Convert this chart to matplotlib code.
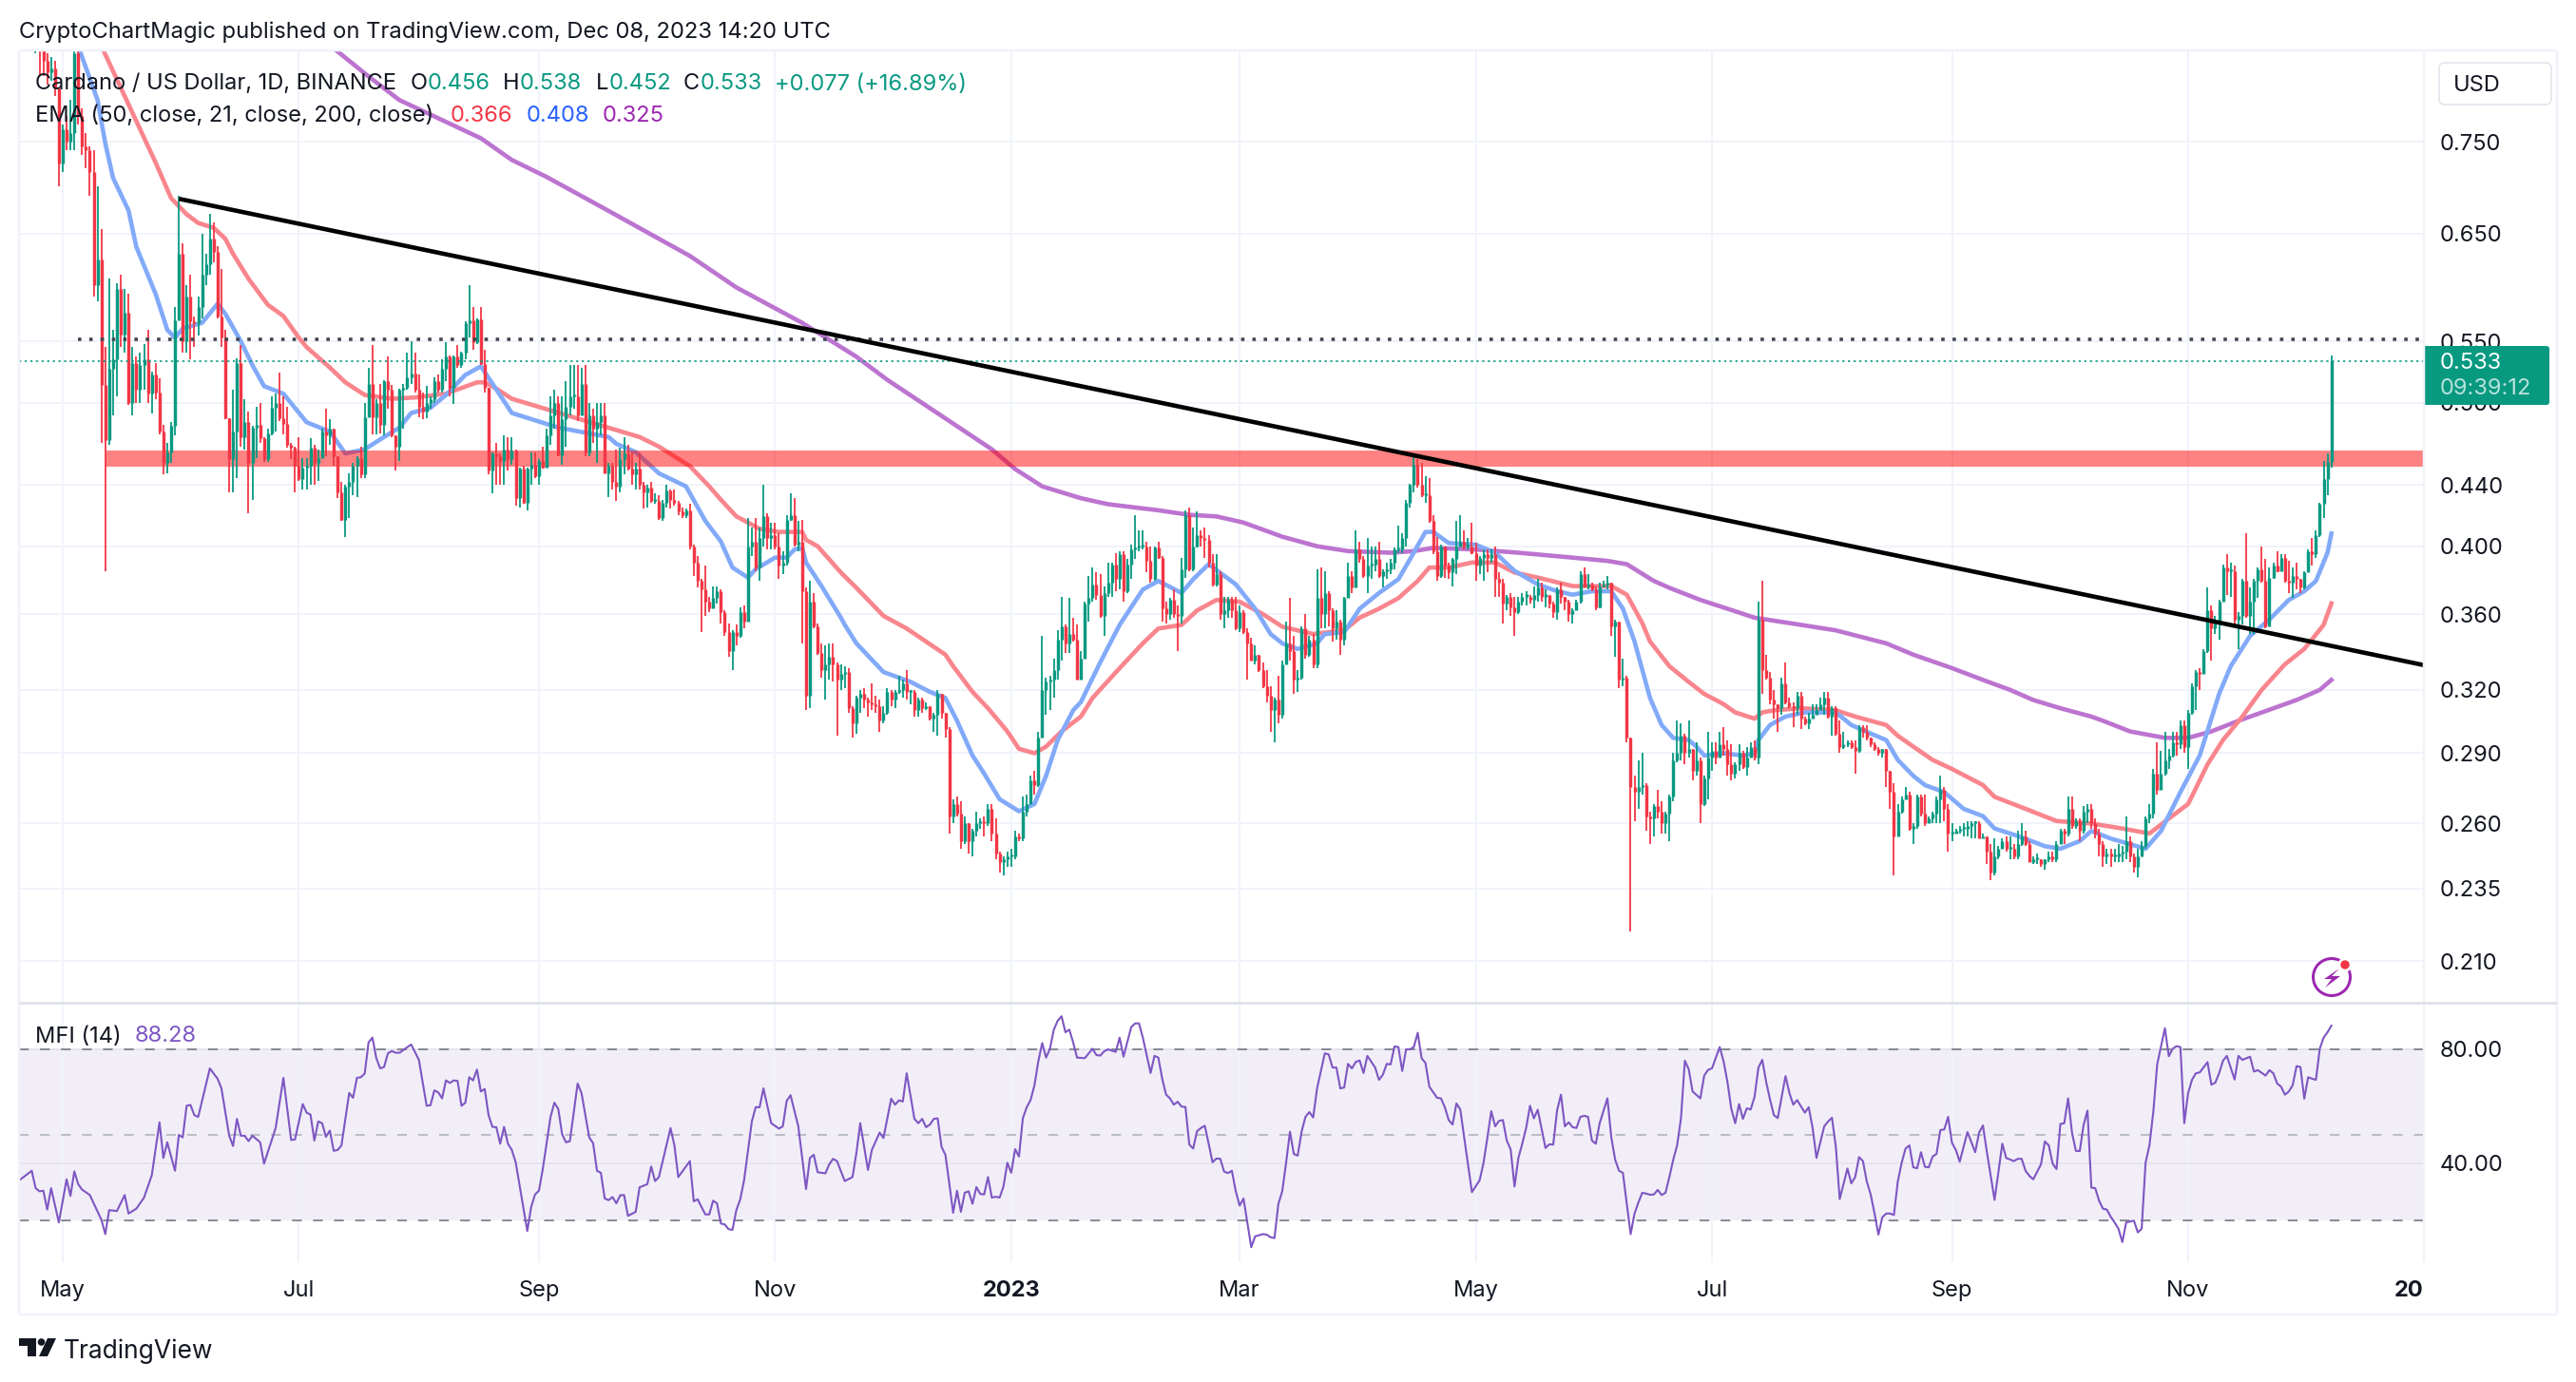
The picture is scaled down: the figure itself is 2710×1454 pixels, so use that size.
import numpy as np
import pandas as pd
import matplotlib
matplotlib.use("Agg")
import matplotlib.pyplot as plt
import matplotlib.dates as mdates
from matplotlib.patches import Circle, FancyBboxPatch, Polygon, Rectangle
from matplotlib.ticker import FixedLocator, NullLocator, FixedFormatter

plt.rcParams['font.family'] = ['Inter', 'DejaVu Sans']

# ---- daily candles, first bar 2022-04-24, one row = 10 days ----
first_bar = '2022-04-24'
close = [
 .88,.865,.85,.835,.84,.815,.725,.765,.75,.76,
 .86,.78,.745,.74,.715,.60,.625,.514,.472,.527,
 .535,.597,.556,.575,.50,.532,.51,.53,.535,.507,
 .522,.508,.478,.455,.463,.482,.568,.63,.55,.59,
 .567,.566,.58,.61,.62,.645,.632,.572,.553,.488,
 .458,.478,.532,.474,.485,.455,.481,.483,.473,.458,
 .477,.496,.50,.488,.484,.468,.466,.453,.444,.452,
 .453,.466,.455,.459,.478,.475,.48,.46,.435,.417,
 .439,.442,.453,.459,.447,.489,.515,.489,.50,.483,
 .517,.51,.475,.467,.51,.512,.52,.523,.51,.497,
 .493,.50,.503,.517,.51,.527,.537,.512,.537,.53,
 .54,.566,.568,.549,.569,.531,.512,.45,.462,.46,
 .457,.465,.458,.464,.431,.451,.428,.451,.454,.446,
 .457,.452,.475,.49,.50,.461,.487,.497,.505,.505,
 .49,.515,.463,.49,.48,.485,.49,.448,.453,.442,
 .439,.458,.462,.451,.447,.451,.44,.435,.438,.429,
 .429,.418,.428,.436,.43,.428,.422,.42,.423,.40,
 .39,.379,.374,.367,.363,.369,.373,.361,.35,.34,
 .35,.348,.361,.356,.40,.403,.387,.405,.419,.405,
 .407,.40,.388,.39,.417,.42,.401,.403,.373,.317,
 .367,.353,.339,.33,.333,.337,.333,.325,.328,.329,
 .311,.304,.316,.318,.315,.314,.313,.312,.305,.309,
 .319,.315,.319,.32,.323,.319,.319,.31,.315,.311,
 .312,.306,.308,.318,.309,.301,.263,.268,.264,.253,
 .26,.253,.257,.26,.261,.26,.266,.256,.248,.245,
 .246,.247,.247,.255,.254,.265,.268,.278,.276,.297,
 .32,.324,.325,.33,.346,.353,.344,.349,.346,.325,
 .336,.366,.369,.377,.371,.359,.372,.378,.389,.38,
 .395,.373,.389,.398,.399,.40,.40,.391,.38,.399,
 .393,.363,.36,.368,.36,.359,.386,.42,.386,.40,
 .407,.405,.404,.39,.377,.383,.36,.362,.368,.362,
 .352,.361,.35,.344,.335,.338,.33,.322,.317,.31,
 .315,.308,.333,.344,.34,.325,.326,.352,.338,.346,
 .333,.369,.36,.372,.362,.352,.356,.346,.369,.382,
 .375,.398,.392,.382,.388,.389,.392,.382,.385,.386,
 .39,.398,.398,.405,.428,.44,.454,.44,.433,.433,
 .416,.397,.382,.40,.388,.384,.392,.40,.403,.40,
 .40,.396,.388,.393,.395,.393,.395,.38,.378,.366,
 .37,.364,.361,.367,.37,.37,.368,.371,.375,.37,
 .371,.366,.361,.374,.37,.367,.36,.362,.367,.383,
 .376,.377,.374,.364,.376,.377,.378,.353,.356,.325,
 .326,.297,.275,.273,.275,.276,.263,.262,.267,.265,
 .26,.264,.271,.287,.29,.298,.29,.292,.282,.287,
 .268,.279,.288,.291,.288,.294,.292,.285,.281,.285,
 .29,.284,.288,.293,.288,.357,.33,.326,.315,.313,
 .311,.323,.314,.312,.311,.317,.306,.304,.306,.308,
 .31,.313,.316,.307,.311,.299,.293,.294,.295,.293,
 .291,.302,.30,.297,.294,.292,.29,.292,.282,.273,
 .255,.265,.27,.272,.258,.259,.271,.264,.26,.262,
 .264,.27,.274,.266,.256,.256,.257,.258,.258,.259,
 .26,.26,.254,.255,.249,.241,.247,.25,.253,.25,
 .25,.247,.252,.255,.252,.245,.246,.246,.244,.246,
 .247,.246,.252,.257,.256,.266,.259,.261,.257,.265,
 .266,.26,.256,.252,.247,.248,.247,.247,.248,.249,
 .253,.247,.243,.247,.251,.262,.264,.281,.274,.281,
 .287,.289,.295,.294,.303,.293,.309,.322,.329,.328,
 .34,.362,.352,.355,.367,.387,.385,.385,.357,.359,
 .379,.359,.367,.379,.386,.379,.353,.381,.388,.385,
 .393,.379,.378,.382,.38,.375,.384,.397,.395,.407,
 .427,.444,.456,.533]
high = [
 .91,.89,.88,.86,.855,.85,.80,.77,.78,.80,
 .88,.90,.79,.76,.745,.74,.70,.655,.545,.606,
 .56,.602,.61,.597,.592,.545,.537,.54,.548,.56,
 .525,.532,.519,.483,.47,.485,.58,.69,.64,.60,
 .61,.572,.59,.65,.63,.67,.662,.638,.615,.56,
 .488,.51,.536,.547,.503,.493,.482,.497,.50,.474,
 .48,.505,.507,.524,.505,.497,.47,.467,.474,.459,
 .459,.473,.468,.465,.48,.495,.487,.478,.46,.442,
 .44,.448,.455,.46,.467,.50,.528,.547,.503,.515,
 .518,.537,.514,.475,.511,.515,.54,.55,.54,.522,
 .508,.513,.505,.52,.522,.535,.549,.538,.538,.547,
 .541,.567,.60,.58,.57,.58,.543,.512,.463,.47,
 .462,.475,.474,.474,.465,.452,.453,.452,.463,.463,
 .458,.467,.48,.505,.51,.505,.505,.517,.53,.53,
 .53,.528,.53,.50,.495,.50,.50,.50,.455,.455,
 .465,.466,.474,.468,.463,.455,.463,.442,.44,.442,
 .434,.433,.43,.44,.437,.437,.429,.425,.424,.427,
 .401,.394,.38,.388,.37,.376,.376,.374,.362,.355,
 .351,.354,.364,.365,.418,.412,.418,.412,.44,.421,
 .415,.415,.408,.397,.42,.434,.431,.416,.417,.375,
 .379,.372,.355,.344,.343,.344,.344,.334,.333,.332,
 .331,.312,.317,.32,.321,.316,.323,.317,.315,.312,
 .321,.32,.32,.327,.325,.33,.32,.32,.316,.316,
 .314,.312,.309,.32,.316,.309,.302,.27,.271,.269,
 .263,.26,.258,.265,.262,.263,.268,.268,.262,.249,
 .247,.249,.25,.257,.256,.271,.272,.28,.282,.30,
 .348,.326,.327,.336,.351,.37,.354,.369,.358,.354,
 .34,.367,.382,.387,.384,.383,.376,.39,.39,.396,
 .397,.397,.392,.401,.42,.41,.41,.403,.40,.40,
 .403,.394,.367,.369,.374,.365,.393,.423,.425,.412,
 .422,.41,.412,.407,.395,.395,.385,.37,.37,.37,
 .37,.365,.362,.352,.347,.343,.338,.334,.33,.322,
 .316,.327,.335,.356,.369,.348,.33,.353,.36,.348,
 .349,.386,.387,.385,.373,.363,.362,.357,.37,.39,
 .385,.41,.403,.394,.405,.40,.40,.403,.386,.39,
 .392,.399,.413,.408,.43,.441,.462,.458,.455,.446,
 .445,.42,.406,.401,.392,.39,.393,.416,.42,.41,
 .405,.415,.402,.394,.398,.398,.398,.40,.384,.38,
 .371,.372,.37,.37,.372,.373,.371,.376,.38,.378,
 .374,.371,.367,.375,.378,.37,.368,.363,.368,.385,
 .387,.383,.378,.376,.378,.379,.382,.378,.357,.356,
 .336,.327,.297,.28,.287,.29,.277,.265,.268,.274,
 .269,.265,.272,.29,.305,.304,.299,.305,.292,.295,
 .288,.28,.30,.295,.295,.30,.302,.296,.294,.286,
 .294,.291,.293,.295,.296,.367,.379,.338,.329,.32,
 .313,.326,.334,.316,.314,.319,.319,.307,.309,.313,
 .313,.316,.319,.319,.312,.312,.305,.30,.296,.296,
 .296,.303,.303,.303,.297,.295,.293,.292,.292,.282,
 .277,.268,.271,.275,.273,.26,.272,.272,.272,.263,
 .265,.271,.28,.275,.268,.26,.258,.259,.26,.261,
 .261,.261,.261,.256,.254,.252,.254,.251,.254,.255,
 .255,.252,.257,.26,.257,.253,.247,.248,.246,.246,
 .249,.249,.253,.258,.258,.271,.271,.262,.262,.267,
 .268,.268,.262,.258,.253,.25,.25,.25,.252,.251,
 .263,.255,.248,.25,.253,.263,.268,.283,.295,.291,
 .30,.292,.30,.30,.305,.305,.31,.323,.33,.331,
 .341,.375,.365,.359,.368,.389,.395,.39,.388,.361,
 .38,.408,.375,.38,.387,.40,.392,.387,.39,.397,
 .395,.395,.391,.387,.39,.38,.385,.398,.405,.41,
 .428,.457,.462,.538]
low = [
 .86,.83,.83,.82,.825,.805,.70,.715,.74,.74,
 .74,.77,.735,.72,.69,.59,.585,.47,.385,.468,
 .49,.505,.545,.54,.498,.49,.50,.50,.51,.50,
 .492,.503,.476,.447,.448,.455,.475,.568,.54,.54,
 .535,.545,.555,.57,.60,.61,.622,.57,.545,.487,
 .435,.435,.445,.467,.465,.421,.43,.459,.47,.456,
 .456,.475,.478,.486,.476,.466,.458,.435,.443,.437,
 .437,.44,.44,.443,.46,.46,.468,.453,.431,.416,
 .406,.418,.433,.432,.445,.445,.489,.476,.476,.477,
 .475,.495,.474,.45,.457,.48,.51,.515,.508,.489,
 .487,.488,.495,.50,.508,.508,.517,.505,.499,.528,
 .528,.535,.553,.543,.548,.53,.508,.447,.434,.44,
 .44,.44,.45,.454,.426,.425,.427,.423,.44,.445,
 .44,.451,.453,.468,.48,.46,.454,.467,.49,.495,
 .486,.49,.46,.46,.47,.455,.475,.448,.432,.437,
 .429,.435,.447,.45,.44,.437,.437,.424,.425,.428,
 .427,.417,.416,.425,.424,.426,.42,.418,.418,.398,
 .382,.375,.35,.359,.361,.363,.366,.355,.348,.337,
 .33,.343,.347,.352,.356,.394,.385,.379,.40,.398,
 .398,.398,.38,.383,.388,.416,.40,.397,.344,.31,
 .311,.352,.338,.326,.315,.325,.324,.298,.32,.321,
 .309,.297,.299,.309,.311,.307,.31,.309,.30,.304,
 .308,.312,.311,.318,.316,.315,.313,.307,.307,.309,
 .31,.305,.30,.298,.306,.297,.256,.26,.263,.25,
 .252,.248,.247,.255,.258,.255,.259,.253,.246,.241,
 .24,.243,.243,.246,.253,.253,.263,.268,.272,.275,
 .297,.308,.31,.316,.325,.335,.339,.339,.345,.325,
 .325,.336,.356,.367,.368,.358,.348,.37,.37,.373,
 .374,.367,.372,.38,.392,.397,.398,.384,.378,.379,
 .392,.356,.355,.357,.358,.34,.355,.381,.385,.385,
 .399,.40,.393,.387,.376,.376,.357,.352,.358,.358,
 .351,.35,.349,.325,.335,.333,.329,.321,.314,.30,
 .295,.304,.306,.333,.335,.318,.319,.325,.336,.337,
 .331,.331,.352,.352,.353,.345,.346,.338,.343,.369,
 .372,.375,.39,.381,.372,.38,.385,.381,.375,.38,
 .383,.386,.396,.396,.40,.425,.435,.438,.432,.428,
 .415,.395,.379,.381,.381,.38,.376,.383,.40,.398,
 .398,.395,.379,.383,.379,.384,.39,.37,.37,.355,
 .362,.359,.348,.36,.365,.365,.366,.363,.367,.367,
 .364,.363,.358,.357,.366,.362,.356,.355,.366,.366,
 .375,.374,.373,.362,.363,.375,.374,.348,.337,.321,
 .322,.295,.22,.261,.266,.272,.257,.252,.255,.262,
 .256,.256,.253,.269,.286,.287,.285,.288,.278,.28,
 .26,.267,.27,.282,.285,.29,.289,.28,.278,.279,
 .282,.283,.28,.288,.287,.285,.318,.325,.313,.306,
 .30,.308,.313,.311,.302,.308,.301,.303,.301,.307,
 .308,.31,.308,.306,.298,.298,.29,.292,.293,.292,
 .281,.29,.297,.296,.293,.291,.289,.288,.275,.266,
 .24,.255,.264,.27,.257,.252,.258,.263,.259,.26,
 .26,.26,.26,.261,.249,.253,.256,.256,.255,.255,
 .254,.254,.254,.254,.244,.238,.24,.246,.25,.249,
 .246,.246,.246,.251,.251,.245,.244,.244,.243,.242,
 .245,.245,.245,.252,.252,.255,.258,.258,.253,.256,
 .26,.258,.254,.247,.243,.244,.243,.245,.245,.245,
 .246,.245,.241,.239,.247,.25,.26,.262,.272,.275,
 .28,.283,.288,.289,.292,.29,.283,.308,.31,.32,
 .328,.339,.335,.349,.346,.367,.371,.37,.354,.341,
 .354,.358,.349,.349,.369,.378,.352,.354,.38,.384,
 .385,.378,.372,.369,.374,.372,.374,.384,.388,.393,
 .406,.418,.433,.452]

# ---- moving averages (days since 2022-05-01, price) ----
ema21_day = [4,9,11,13,17,19,24,27,29,31,36,40,42,46,49,52,57,63,69,73,78,83,87,90,95,99,104,108,111,116,
 128,141,143,148,154,161,166,170,173,177,179,184,187,189,191,192,196,201,202,205,212,219,224,228,231,235,238,
 242,247,251,254,257,261,263,268,273,279,283,289,292,296,303,308,312,315,319,324,326,331,335,340,345,348,352,354,
 358,365,370,375,381,386,390,395,400,403,406,410,413,416,420,422,424,429,434,437,438,441,445,450,458,462,467,471,
 474,478,481,486,491,496,499,505,512,516,521,524,529,538,542,547,552,557,560,565,570,575,579,582,585,586]
ema21 = [.87,.80,.748,.709,.674,.637,.592,.56,.553,.561,.566,.583,.574,.55,.53,.513,.507,.485,.478,.462,.465,.474,.481,.492,.496,.506,.522,.529,.515,.492,
 .481,.474,.469,.463,.448,.439,.416,.403,.387,.381,.386,.393,.393,.398,.399,.39,.376,.358,.354,.344,.329,.324,.319,.316,.305,.289,.281,
 .27,.265,.268,.28,.296,.31,.314,.334,.354,.374,.379,.372,.38,.389,.377,.363,.349,.344,.341,.344,.349,.35,.363,.372,.38,.392,.409,.409,
 .402,.401,.396,.385,.377,.373,.371,.373,.373,.363,.345,.316,.303,.297,.296,.293,.289,.29,.289,.29,.296,.303,.307,.309,.309,.303,.299,.296,
 .287,.28,.276,.273,.266,.263,.258,.255,.251,.25,.253,.257,.254,.25,.257,.273,.289,.318,.332,.348,.357,.368,.373,.379,.396,.408]
ema50_day = [10,16,24,28,32,35,39,42,44,48,53,57,61,63,69,73,78,85,91,99,107,109,112,116,
 149,154,162,167,170,174,177,180,185,191,192,195,201,205,212,218,228,230,235,239,
 244,247,251,254,258,263,266,273,279,283,289,293,298,304,310,315,323,331,335,340,345,350,353,358,364,370,375,381,390,400,404,408,
 410,415,420,424,429,432,437,439,442,449,458,463,471,474,478,483,488,496,499,507,515,524,532,539,544,549,554,558,563,568,574,579,584,586]
ema50 = [.87,.805,.726,.687,.67,.661,.656,.645,.63,.606,.582,.572,.553,.545,.528,.516,.506,.503,.504,.507,.516,.516,.511,.503,
 .474,.467,.453,.439,.43,.419,.415,.411,.409,.409,.404,.40,.384,.375,.359,.352,.338,.332,.319,.311,
 .30,.292,.29,.293,.30,.307,.316,.331,.344,.352,.354,.362,.368,.367,.36,.353,.349,.351,.358,.363,.369,.379,.387,.387,.39,.39,.384,.381,.376,.376,.371,.355,
 .345,.332,.324,.318,.313,.309,.306,.309,.31,.311,.31,.307,.303,.298,.293,.287,.283,.276,.271,.266,.261,.26,.258,.256,.262,.268,.285,.296,.307,.32,.333,.341,.354,.366]
ema200_day = [70,79,87,96,108,116,125,139,162,174,191,205,213,230,240,246,253,263,270,283,291,298,305,315,324,332,343,349,354,365,376,390,399,404,
 411,415,423,430,437,449,458,471,478,488,496,503,509,516,524,527,534,543,549,555,562,577,583,586]
ema200 = [.867,.83,.80,.78,.754,.729,.71,.678,.628,.598,.566,.537,.518,.484,.465,.451,.439,.431,.427,.423,.42,.419,.415,.406,.40,.397,.396,.397,.399,.398,.396,.393,.391,.389,
 .379,.375,.368,.363,.358,.354,.351,.344,.338,.331,.325,.32,.315,.311,.307,.305,.30,.297,.297,.30,.305,.315,.32,.325]

# ---- money flow index (days since 2022-05-01, value) ----
mfi_day = [-11,-8,-7,-6,-5,-4,-3,-1,1,2,3,4,5,7,10,11,12,14,16,17,19,21,23,25,26,27,29,30,31,32,33,34,35,38,40,41,43,44,45,46,47,48,49,51,52,55,57,59,60,62,63,64,65,66,67,68,69,70,71,72,74,75,76,77,78,79,80,81,82,83,84,85,86,87,90,92,94,95,96,97,98,99,100,101,102,103,104,105,106,107,108,109,110,111,112,113,114,115,116,117,120,121,122,123,124,126,127,128,129,130,131,133,134,136,137,138,139,140,141,142,143,144,145,146,148,149,151,152,153,154,157,158,159,162,163,164,165,166,167,168,169,170,171,172,173,174,175,176,178,179,180,181,183,185,186,187,188,190,192,193,194,195,197,198,199,
 200,202,204,205,206,208,209,211,212,214,215,216,217,218,219,220,221,222,223,224,225,226,227,228,229,230,231,232,233,234,235,236,237,238,239,240,241,242,243,244,245,246,247,248,249,250,251,252,253,254,255,256,257,258,259,260,261,262,264,266,267,268,269,270,272,273,274,276,277,278,279,281,282,283,284,285,286,287,288,289,290,291,292,293,294,295,296,297,298,299,300,301,302,303,304,305,307,308,310,311,312,313,314,315,316,317,318,319,320,321,322,323,324,326,327,328,329,330,331,332,333,334,335,336,337,339,340,341,342,343,344,345,346,347,348,349,350,351,352,353,355,356,357,358,359,360,361,
 362,364,366,367,368,369,370,371,372,373,374,375,376,377,378,379,380,381,383,384,385,386,387,388,389,390,391,392,393,394,395,396,397,399,400,401,402,403,404,405,406,407,408,409,410,411,412,413,414,415,416,417,418,419,420,421,423,424,425,426,428,429,430,431,432,433,434,435,436,437,438,439,440,441,442,443,445,446,447,448,450,451,452,453,455,456,457,458,459,461,462,463,464,465,466,467,468,469,470,471,472,473,474,475,476,477,478,479,480,481,482,483,484,485,486,487,488,489,490,492,494,495,496,497,499,
 501,502,504,505,506,507,508,509,511,512,513,514,515,516,517,518,519,520,521,522,523,524,525,526,527,528,529,530,531,532,533,535,536,537,538,539,540,541,543,544,545,546,547,548,549,550,551,552,554,555,556,557,558,559,561,562,563,565,566,567,569,570,571,572,573,574,575,576,577,578,579,580,581,582,583,584,585,586]
mfi = [34.3,37.4,31.3,30.2,30.4,23.8,31.3,19.3,34.4,28.6,37.2,32.7,30.8,28.9,20.2,15.2,23.6,23.3,28.9,22.4,24.1,28,35.8,54.4,41.9,47.4,37.4,50,49.1,60.2,60.5,56.9,56.3,73.3,69.7,66.3,49.7,46.1,55.6,49.7,49.7,47.8,49.7,47.4,39.9,52.4,70,48.2,48.4,60.8,57.8,57.1,48,54.7,54.1,49.3,51.5,44.4,44.7,46.3,64.7,63,70,70.2,71.5,82.4,84.1,76.9,73.3,73.8,78.6,79.4,78.8,78.8,81.7,76.3,60.2,60.4,65.6,64.9,62.8,69.1,68.2,69.1,68.9,60.2,61.3,70.2,69.1,72.9,65.2,66.1,56.9,52.8,52.7,46.9,52.8,46.9,44.7,40.4,16.3,24.7,29.1,30.4,38,56.3,61.3,59.1,50.2,47.4,47.8,68,64.7,49.1,47.1,37.4,36.7,27.7,27.1,28.2,26,28.8,28.9,21.6,23,31.6,32.7,38.9,33.8,35.2,52.4,46.3,35.2,40.8,26.7,27.4,24.7,22.1,22.1,26.9,26,18.9,18.6,16.9,16.7,23.6,27.4,34.1,54.7,59.7,59.7,66.3,54.1,52.2,53,61.9,63.9,53,31,41.9,43,36.9,36.5,39.7,41.6,
 40.8,33.8,35.2,43.6,54.1,37.7,44.7,50.8,48.9,62.7,60.6,62.1,61.7,71.6,63.6,55.6,54.1,55.6,52.7,53.6,55.6,55.8,45.8,43,33,22.7,30.4,23,29.7,30.2,25.8,31.7,29.3,29.1,35.2,28,28.3,28,31.9,40.2,36.7,45,42.4,55.8,59.7,62.2,67.4,75.8,82.2,77.1,80.2,86.9,90,91.6,86,86.9,82.4,77.1,76.9,80.2,78,77.8,79.3,80,79.1,84.1,77.4,87.8,89.1,89.1,84.1,71.7,77.7,77.1,69.7,64.1,62.8,60.6,61.6,59.9,59.8,46.6,45.2,51.3,52.4,53.2,46.9,40.4,41.7,41.6,37.1,36.6,37.4,30.2,25.2,27.7,10.6,14.4,15.2,15,14.1,13.8,25.8,30.2,40.2,51.1,43.3,42.7,51.1,56.3,58,56.1,66.3,78.6,78.2,73.6,73.6,66.3,66.6,74.9,73.3,75.6,76.1,71.7,77.7,73.6,69.3,71.1,74.9,74.7,81,80.8,72.4,80,80,80.8,85.8,76.9,75.2,66.9,63,62.8,59.7,55.2,53.6,61,58.9,
 49.1,29.9,34.1,40.2,49.1,58.3,53,54.9,55.2,48,44.9,31.9,41.9,46.9,52.4,60.2,55.8,58.8,45.4,46.7,46.6,58.6,64.1,53,54.4,52.7,52.4,56.3,56.7,56.3,48,46.9,54.1,62.8,49.1,41.3,37.4,36.7,25.8,15.2,22.4,26.3,29.7,29.4,29,29.1,30.7,28.9,29.7,35.2,41.3,46.3,55.8,76,73,65.2,62.8,70.8,72.8,73.3,80.8,75.8,68.6,59.1,54.1,60.8,55.6,59.3,58.9,63.3,73.6,76.3,68.6,62.4,56.9,55.9,70.6,64.7,60.6,62.2,57.8,59.7,52.4,41.9,53,54.7,56,45.8,27.5,38.2,33,35.2,42.2,40.8,33.6,29.1,22.4,15,21.1,22.4,22.4,21.9,33.6,40.2,45.2,46.3,38.6,38.3,43.9,38.8,38.6,42.4,43.3,51.7,51.9,56.3,47.2,44.7,40.6,51,43.9,50.8,53.3,44.1,27.2,
 46.9,41.9,40.8,41.6,41.6,37.4,35.6,34.4,39.7,47.7,46.3,39.9,38,53.8,54.1,62.8,50.8,44.4,44.3,53.5,58.5,31.5,31.3,26.9,24.1,23.8,21.3,19.3,17.1,12.4,19.3,19.9,15.8,17.1,40.2,46.3,58,74.7,87.4,77.6,80.2,81.1,80.8,54.1,64.7,69.3,71.6,71.9,75.5,67.6,68.3,71.6,76,77.7,69.4,77.7,76.3,77.4,72.2,72.7,70.8,72.7,71.6,68,66.9,64.1,65.2,67.4,74.1,73.8,62.7,70.2,69.7,69.3,80.2,84.1,86,88.3]

# ---- drawings and labels ----
trend_day = [30, 610]
trend_price = [.6863, .3325]
resistance_level = .5516
band_low, band_high = .4525, .464
band_start_day = 11
dotted_start_day = 4
last_price = .533
price_ticks = [.75, .65, .55, .50, .44, .40, .36, .32, .29, .26, .235, .21]
mfi_ticks = [80, 40]
month_ticks = ['2022-05-01','2022-07-01','2022-09-01','2022-11-01','2023-01-01','2023-03-01',
               '2023-05-01','2023-07-01','2023-09-01','2023-11-01']
month_labels = ['May','Jul','Sep','Nov','2023','Mar','May','Jul','Sep','Nov']

UP, DOWN = '#089981', '#F23645'
GRID, SEP, INK = '#F0F3FA', '#E0E3EB', '#131722'
W, H = 2710, 1454
PX = 72 / 100  # one pixel in points at dpi 100

fig = plt.figure(figsize=(W/100, H/100), dpi=100, facecolor='white')
def pane(top, bottom):
    return fig.add_axes([20/W, 1-bottom/H, 2530/W, (bottom-top)/H])
ax = pane(53, 1055)
sub = pane(1055, 1328)

base = mdates.date2num(pd.Timestamp('2022-05-01'))
xlim = (base-11.29, base+609.9)
c = np.array(close); hi = np.array(high); lo = np.array(low)
o = np.r_[c[0], c[:-1]]
x = mdates.date2num(pd.date_range(first_bar, periods=len(c)))
hi = np.maximum(hi, np.maximum(o, c)); lo = np.minimum(lo, np.minimum(o, c))
up = c >= o
btop = np.maximum(np.maximum(o, c), np.minimum(o, c)*1.003)
bbot = np.minimum(o, c)

ax.set_yscale('log')
ax.set_xlim(*xlim); ax.set_ylim(.1968, .8643)
sub.set_xlim(*xlim); sub.set_ylim(5.33, 96.33)

ticks_x = mdates.date2num(pd.to_datetime(month_ticks))
for a in (ax, sub):
    a.set_xticks(ticks_x)
    a.grid(True, axis='x', color=GRID, lw=2*PX, zorder=0)
    a.set_axisbelow(True)
    for s in a.spines.values():
        s.set_visible(False)
    a.yaxis.tick_right()
    a.tick_params(axis='both', length=0, labelsize=17, labelcolor=INK)
    a.tick_params(axis='y', pad=12)
ax.tick_params(axis='x', labelbottom=False)
sub.set_xticklabels(month_labels)
sub.tick_params(axis='x', pad=14)
for t in sub.get_xticklabels():
    if t.get_text() == '2023':
        t.set_fontweight('bold')

ax.yaxis.set_major_locator(FixedLocator(price_ticks))
ax.yaxis.set_major_formatter(FixedFormatter([f'{p:.3f}' for p in price_ticks]))
ax.yaxis.set_minor_locator(NullLocator())
ax.grid(True, axis='y', which='major', color=GRID, lw=2*PX, zorder=0)

# EMAs under band and candles
ax.plot(base+np.array(ema200_day), ema200, color='#BC74D0', lw=4.6*PX, zorder=2, solid_joinstyle='round')
ax.plot(base+np.array(ema50_day), ema50, color='#F9858D', lw=4.6*PX, zorder=2.1, solid_joinstyle='round')
ax.plot(base+np.array(ema21_day), ema21, color='#82AAF9', lw=4.6*PX, zorder=2.2, solid_joinstyle='round')
# supply band
ax.fill_between([base+band_start_day, xlim[1]], band_low, band_high, color=(1, 0, 0), alpha=.49, lw=0, zorder=2.5)
# candles
for mask, col in ((up, UP), (~up, DOWN)):
    ax.vlines(x[mask], lo[mask], hi[mask], color=col, lw=1.8*PX, zorder=3, capstyle='butt')
    ax.vlines(x[mask], bbot[mask], btop[mask], color=col, lw=3.4*PX, zorder=3.1, capstyle='butt')
# lines
ax.hlines(last_price, xlim[0], xlim[1], color=UP, lw=1.6*PX, linestyles=[(0, (1.5, 2.2))], zorder=3.5)
ax.hlines(resistance_level, base+dotted_start_day, xlim[1], color='#434651', lw=3.6*PX, linestyles=[(0, (1, 2.3))], zorder=3.5)
ax.plot(base+np.array(trend_day), trend_price, color='black', lw=4.6*PX, zorder=4, solid_capstyle='butt')

# MFI
sub.axhspan(20, 80, color='#F1EEF8', lw=0, zorder=0.5)
sub.set_yticks(mfi_ticks, [f'{v:.2f}' for v in mfi_ticks])
sub.grid(True, axis='y', color='#E6E3EF', lw=2*PX, zorder=0.6)
for a_line in sub.get_xgridlines():
    a_line.set_zorder(0.7)
for lvl, col in ((80, '#787B86'), (20, '#787B86'), (50, '#B2B5BE')):
    sub.axhline(lvl, color=col, lw=1.7*PX, linestyle=(0, (6, 7)), zorder=1)
sub.plot(base+np.array(mfi_day), mfi, color='#7E57C2', lw=2.1*PX, zorder=3)

# overlay in pixel coordinates for the frame, labels and badges
ov = fig.add_axes([0, 0, 1, 1], facecolor='none')
ov.set_xlim(0, W); ov.set_ylim(H, 0); ov.axis('off')
def line(xs, ys, col=GRID, lw=2.5):
    ov.plot(xs, ys, color=col, lw=lw*PX, solid_capstyle='butt')
line([20, 20], [53, 1383]); line([20, 2690], [53, 53]); line([2690, 2690], [53, 1383]); line([20, 2690], [1383, 1383])
line([2550, 2550], [53, 1328]); line([20, 2690], [1055, 1055], SEP, 3)

def label(px, py, s, col=INK, size=17, **kw):
    ov.text(px, py + 2.5, s, color=col, fontsize=size, va='center', ha=kw.pop('ha', 'left'), **kw)

label(20, 31, 'CryptoChartMagic published on TradingView.com, Dec 08, 2023 14:20 UTC', size=17.1)
label(37, 86, 'Cardano / US Dollar, 1D, BINANCE')
for px, s, col in ((432, 'O', INK), (450, '0.456', UP), (529, 'H', INK), (547, '0.538', UP), (627, 'L', INK),
                   (641, '0.452', UP), (719, 'C', INK), (737, '0.533', UP), (815, '+0.077 (+16.89%)', UP)):
    label(px, 86, s, col)
label(37, 119, 'EMA (50, close, 21, close, 200, close)')
for px, s, col in ((474, '0.366', DOWN), (554, '0.408', '#2962FF'), (634, '0.325', '#9C27B0')):
    label(px, 119, s, col)
label(37, 1088, 'MFI (14)')
label(142, 1088, '88.28', '#7E57C2')
label(2549, 1356, '20', ha='right', fontweight='bold')

# USD button
ov.add_patch(FancyBboxPatch((2566, 66), 118, 44, boxstyle='round,pad=0,rounding_size=6', fc='white', ec=SEP, lw=1.5*PX))
label(2606, 87, 'USD', ha='center')

# last price badge
ov.add_patch(FancyBboxPatch((2550, 364), 132, 62, boxstyle='round,pad=0,rounding_size=3', fc=UP, ec='none'))
ov.add_patch(Rectangle((2550, 364), 10, 62, fc=UP, ec='none'))
label(2567, 379.5, '0.533', 'white')
label(2567, 406.5, '09:39:12', '#B8E2DB')

# lightning badge
ov.add_patch(Circle((2453, 1028), 19.5, fc='none', ec='#9C27B0', lw=3*PX))
ov.add_patch(Polygon([(2461, 1019), (2445, 1030), (2453, 1030), (2446, 1039), (2462, 1027), (2453, 1027)], fc='#9C27B0', ec='none'))
ov.add_patch(Circle((2467, 1015), 7.5, fc='white', ec='none'))
ov.add_patch(Circle((2467, 1015), 4.7, fc=DOWN, ec='none'))

# TradingView mark
ov.add_patch(Polygon([(20, 1408), (38, 1408), (38, 1427), (29, 1427), (29, 1416), (20, 1416)], fc=INK, ec='none'))
ov.add_patch(Circle((43.5, 1412), 3.8, fc=INK, ec='none'))
ov.add_patch(Polygon([(50, 1408), (59, 1408), (50, 1427), (41, 1427)], fc=INK, ec='none'))
label(67, 1419, 'TradingView', size=19)

fig.savefig('out.png', dpi=100)
